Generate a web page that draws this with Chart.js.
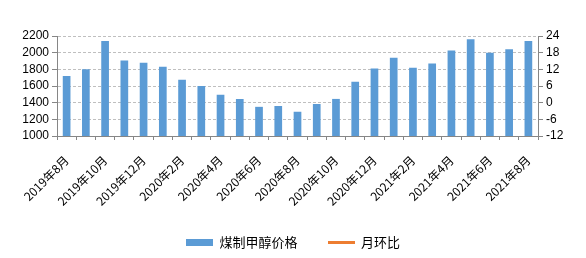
<!DOCTYPE html>
<html><head><meta charset="utf-8">
<script src="https://cdn.jsdelivr.net/npm/chart.js@4/dist/chart.umd.min.js"></script>
<style>html,body{margin:0;padding:0;background:#fff}#wrap{width:586px;height:258px}</style>
</head><body><div id="wrap"><canvas id="c" width="586" height="258"></canvas></div>
<script>
const months = ['2019年8月','2019年9月','2019年10月','2019年11月','2019年12月','2020年1月','2020年2月','2020年3月','2020年4月','2020年5月','2020年6月','2020年7月','2020年8月','2020年9月','2020年10月','2020年11月','2020年12月','2021年1月','2021年2月','2021年3月','2021年4月','2021年5月','2021年6月','2021年7月','2021年8月'];
const methanolPrice = [1720,1800,2140,1905,1880,1830,1675,1600,1495,1445,1350,1360,1290,1385,1445,1650,1810,1940,1820,1870,2025,2160,2000,2040,2140];
const momChange = [null,null,null,null,null,null,null,null,null,null,null,null,null,null,null,null,null,null,null,null,null,null,null,null,null];
const leftTicks = [1000,2200,200];
const rightTicks = [-12,24,6];

function swatch(w,h,color){const c=document.createElement('canvas');c.width=w;c.height=h;const x=c.getContext('2d');x.fillStyle=color;x.fillRect(0,0,w,h);return c;}
const blueSw = swatch(27,7,'#5B9BD5');
const orangeSw = swatch(27,3,'#ED7D31');

const legendFix = {id:'legendFix', afterInit(chart){const lg=chart.legend; if(!lg) return; const f=lg.fit.bind(lg); lg.fit=function(){f(); this.height=52;};}};

new Chart(document.getElementById('c'), {
  type:'bar',
  data:{labels:months, datasets:[
    {label:'煤制甲醇价格', data:methanolPrice, backgroundColor:'#5B9BD5', yAxisID:'y', categoryPercentage:1, barPercentage:0.4, order:2},
    {type:'line', label:'月环比', data:momChange, borderColor:'#ED7D31', backgroundColor:'#ED7D31', borderWidth:2, pointRadius:0, yAxisID:'y1', order:1}
  ]},
  options:{
    responsive:false, animation:false, devicePixelRatio:1,
    layout:{padding:{top:36,left:0,right:0,bottom:0}},
    plugins:{
      tooltip:{enabled:false},
      legend:{position:'bottom', labels:{usePointStyle:true, pointStyleWidth:27, padding:30, color:'#000', font:{family:'"Noto Sans CJK SC"', size:13},
        generateLabels(chart){return [
          {text:'煤制甲醇价格', pointStyle:blueSw, fillStyle:'#5B9BD5', strokeStyle:'#5B9BD5', lineWidth:0, datasetIndex:0, fontColor:'#000'},
          {text:'月环比', pointStyle:orangeSw, fillStyle:'#ED7D31', strokeStyle:'#ED7D31', lineWidth:0, datasetIndex:1, fontColor:'#000'}
        ];}}}
    },
    scales:{
      x:{
        grid:{offset:true, drawOnChartArea:false, tickLength:4, tickColor:'#868686'},
        border:{color:'#868686'},
        ticks:{autoSkip:false, minRotation:45, maxRotation:45, padding:13, color:'#000', font:{family:'"Noto Sans CJK SC"', size:12},
          callback(v,i){return i%2===0 ? this.getLabelForValue(v) : '';}},
        afterFit(s){s.height=70;}
      },
      y:{
        position:'left', min:leftTicks[0], max:leftTicks[1],
        ticks:{stepSize:leftTicks[2], autoSkip:false, color:'#000', font:{family:'"Liberation Sans"', size:12}, padding:3, callback:v=>String(v)},
        grid:{color:'#BFBFBF', tickLength:5, tickColor:'#868686'},
        border:{color:'#868686', dash:[3,2]},
        afterFit(s){s.width=57;}
      },
      y1:{
        position:'right', min:rightTicks[0], max:rightTicks[1],
        ticks:{stepSize:rightTicks[2], autoSkip:false, color:'#000', font:{family:'"Liberation Sans"', size:12}, padding:3, callback:v=>String(v)},
        grid:{drawOnChartArea:false, tickLength:5, tickColor:'#868686'},
        border:{color:'#868686'},
        afterFit(s){s.width=48;}
      }
    }
  },
  plugins:[legendFix]
});
</script></body></html>
